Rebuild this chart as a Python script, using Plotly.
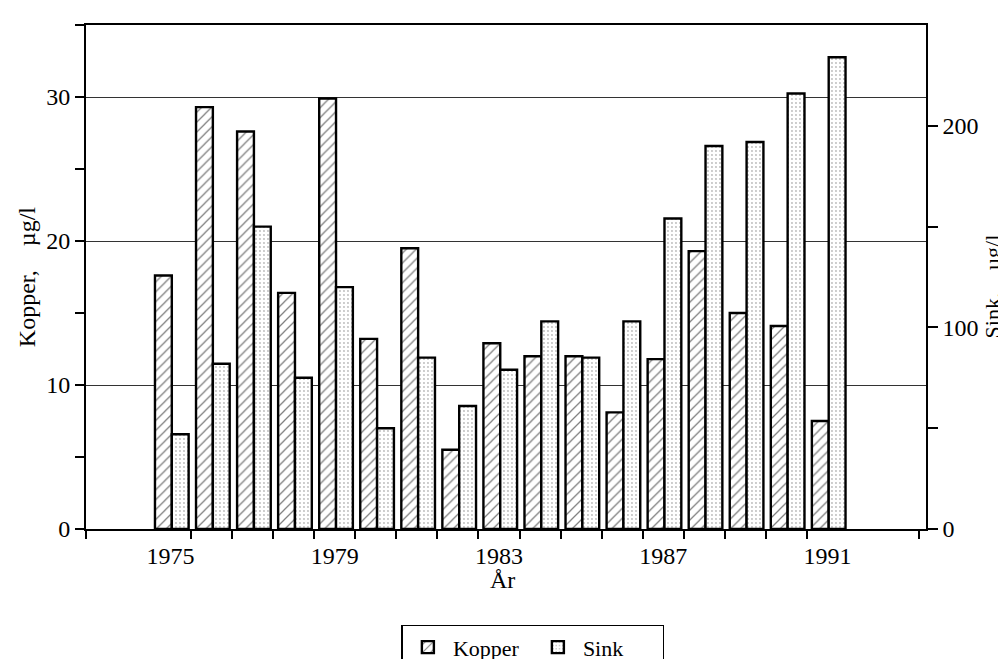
import plotly.graph_objects as go

# ---- data ----
years = list(range(1975, 1992))
kopper = [17.6, 29.3, 27.6, 16.4, 29.9, 13.2, 19.5, 5.5, 12.9, 12.0, 12.0, 8.1, 11.8, 19.3, 15.0, 14.1, 7.5]
sink = [47, 82, 150, 75, 120, 50, 85, 61, 79, 103, 85, 103, 154, 190, 192, 216, 234]
label_years = [1975, 1979, 1983, 1987, 1991]
left_ticks = [0, 10, 20, 30]
left_minor = [5, 15, 25, 35]
right_ticks = [0, 100, 200]
right_minor = [50, 150]

FONT = "Liberation Serif"

x_lo = years[0] - 2.06
x_hi = years[-1] + 2.4
boundaries = [x_lo] + [y + 0.5 for y in years[:-1]] + [years[-1] + 2.22]

fig = go.Figure()
fig.add_trace(go.Bar(
    x=years, y=kopper, name="Kopper", yaxis="y",
    width=0.41, offset=-0.38,
    marker=dict(color="white", line=dict(color="black", width=2.4),
                pattern=dict(shape="/", fgcolor="black", bgcolor="white",
                             size=7, solidity=0.18)),
    hoverinfo="x+y",
))
fig.add_trace(go.Bar(
    x=years, y=sink, name="Sink", yaxis="y2",
    width=0.41, offset=0.03,
    marker=dict(color="white", line=dict(color="black", width=2.4),
                pattern=dict(shape=".", fgcolor="#777777", bgcolor="white",
                             size=4, solidity=0.18)),
    hoverinfo="x+y",
))

fig.update_layout(
    width=1006, height=659,
    margin=dict(l=78, r=88, t=17, b=138, autoexpand=False),
    paper_bgcolor="white", plot_bgcolor="white",
    barmode="overlay",
    font=dict(family=FONT, size=24, color="black"),
    xaxis=dict(
        range=[x_lo, x_hi], automargin=False,
        tickvals=label_years, ticktext=[str(y) for y in label_years],
        ticks="", showgrid=False, zeroline=False,
        showline=True, linecolor="black", linewidth=2, mirror=True,
        ticklabelstandoff=4,
        tickfont=dict(family=FONT, size=24),
        minor=dict(tickmode="array", tickvals=boundaries, ticks="outside",
                   ticklen=8, tickwidth=1.5, tickcolor="black", showgrid=False),
    ),
    yaxis=dict(
        range=[0, 35], automargin=False,
        tickvals=left_ticks, ticktext=[str(v) for v in left_ticks],
        ticks="outside", ticklen=9, tickwidth=1.5, tickcolor="black",
        showgrid=True, gridcolor="#333333", gridwidth=1,
        zeroline=False, showline=True, linecolor="black", linewidth=2,
        tickfont=dict(family=FONT, size=24),
        minor=dict(tickmode="array", tickvals=left_minor, ticks="outside",
                   ticklen=9, tickwidth=1.5, tickcolor="black", showgrid=False),
    ),
    yaxis2=dict(
        overlaying="y", side="right", automargin=False,
        range=[0, 250], tickvals=right_ticks, ticktext=[str(v) for v in right_ticks],
        ticks="outside", ticklen=10, tickwidth=1.5, tickcolor="black",
        showgrid=False, zeroline=False, showline=True, linecolor="black", linewidth=1.5,
        tickfont=dict(family=FONT, size=24),
        minor=dict(tickmode="array", tickvals=right_minor, ticks="outside",
                   ticklen=10, tickwidth=1.5, tickcolor="black", showgrid=False),
    ),
    legend=dict(
        orientation="h", x=0.532, xanchor="center",
        yref="container", y=0.064, yanchor="top",
        bordercolor="black", borderwidth=1.5, bgcolor="white",
        font=dict(family=FONT, size=22),
        itemwidth=40, entrywidth=75,
    ),
    annotations=[
        dict(text="Kopper,\u00a0\u00a0\u00a0\u00a0µg/l", xref="paper", yref="paper",
             x=-0.07, y=0.50, textangle=-90, showarrow=False,
             font=dict(family=FONT, size=24), xanchor="center", yanchor="middle"),
        dict(text="Sink,\u00a0\u00a0\u00a0\u00a0µg/l", xref="paper", yref="paper",
             x=1.079, y=0.482, textangle=-90, showarrow=False,
             font=dict(family=FONT, size=22), xanchor="center", yanchor="middle"),
        dict(text="År", xref="paper", yref="paper",
             x=0.496, y=-0.102, showarrow=False,
             font=dict(family=FONT, size=24), xanchor="center", yanchor="middle"),
    ],
)

fig.write_html("out.html")
